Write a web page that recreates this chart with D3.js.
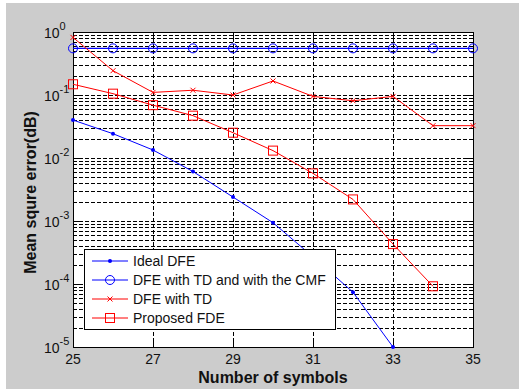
<!DOCTYPE html>
<html>
<head>
<meta charset="utf-8">
<script src="https://cdn.jsdelivr.net/npm/d3@7"></script>
<style>
body { margin: 0; background: #fff; }
text { font-family: Arial, "Liberation Sans", sans-serif; fill: #111; }
</style>
</head>
<body>
<div id="chart"></div>
<script>
// symbols on the x axis
var symbols = [25, 26, 27, 28, 29, 30, 31, 32, 33, 34, 35];

// mean square error per series
var idealDfe   = [0.040, 0.0243, 0.0134, 0.0061, 0.0024, 0.00094, 0.00027, 0.000074, 0.00001];
var dfeTdCmf   = [0.55, 0.55, 0.55, 0.55, 0.55, 0.55, 0.55, 0.55, 0.55, 0.55, 0.55];
var dfeTd      = [0.82, 0.243, 0.110, 0.119, 0.100, 0.167, 0.095, 0.081, 0.095, 0.0326, 0.0326];
var proposedFde = [0.148, 0.105, 0.069, 0.047, 0.0252, 0.0131, 0.0057, 0.0022, 0.00043, 0.000092];

var xTicks = [25, 27, 29, 31, 33, 35];
var yExponents = [0, -1, -2, -3, -4, -5];

var legendNames = ["Ideal DFE", "DFE with TD and with the CMF", "DFE with TD", "Proposed FDE"];

var W = 519, H = 389;
var padL = 73, padT = 32, pw = 400, ph = 315;

var svg = d3.select("#chart").append("svg")
    .attr("width", W)
    .attr("height", H);

// figure background
svg.append("rect").attr("x", 6).attr("y", 3).attr("width", W - 6).attr("height", H - 3)
    .attr("fill", "#cccccc");

var x = d3.scaleLinear().domain([25, 35]).range([padL, padL + pw]);
var y = d3.scaleLog().domain([1e-5, 1]).range([padT + ph, padT]);

svg.append("rect").attr("x", padL).attr("y", padT).attr("width", pw).attr("height", ph)
    .attr("fill", "#fff");

var g = svg.append("g");

// grid lines, log minor too
var yGrid = [];
for (var e = -5; e < 0; e++) {
    for (var m = 1; m < 10; m++) yGrid.push(m * Math.pow(10, e));
}
g.selectAll(".hgrid").data(yGrid.filter(function(d, i) { return i > 0; }))
    .enter().append("line")
    .attr("x1", padL).attr("x2", padL + pw)
    .attr("y1", function(d) { return Math.round(y(d)) + 0.5; })
    .attr("y2", function(d) { return Math.round(y(d)) + 0.5; })
    .attr("stroke", "#000").attr("stroke-width", 1)
    .attr("stroke-dasharray", "4,2");

g.selectAll(".vgrid").data(xTicks.slice(1, -1))
    .enter().append("line")
    .attr("x1", function(d) { return Math.round(x(d)) + 0.5; })
    .attr("x2", function(d) { return Math.round(x(d)) + 0.5; })
    .attr("y1", padT).attr("y2", padT + ph)
    .attr("stroke", "#000").attr("stroke-width", 1)
    .attr("stroke-dasharray", "4,2");

// tick marks inside the box, both sides
yGrid.concat([1]).forEach(function(d) {
    var major = Math.abs(Math.log10(d) - Math.round(Math.log10(d))) < 1e-9;
    var len = major ? 6 : 3;
    var yy = Math.round(y(d)) + 0.5;
    g.append("line").attr("x1", padL).attr("x2", padL + len).attr("y1", yy).attr("y2", yy).attr("stroke", "#000");
    g.append("line").attr("x1", padL + pw - len).attr("x2", padL + pw).attr("y1", yy).attr("y2", yy).attr("stroke", "#000");
});
xTicks.forEach(function(d) {
    var xx = Math.round(x(d)) + 0.5;
    g.append("line").attr("x1", xx).attr("x2", xx).attr("y1", padT + ph).attr("y2", padT + ph - 6).attr("stroke", "#000");
    g.append("line").attr("x1", xx).attr("x2", xx).attr("y1", padT).attr("y2", padT + 6).attr("stroke", "#000");
});

svg.append("rect").attr("x", padL + 0.5).attr("y", padT + 0.5).attr("width", pw).attr("height", ph)
    .attr("fill", "none").attr("stroke", "#000");

// tick labels
svg.selectAll(".xlab").data(xTicks).enter().append("text")
    .attr("x", function(d) { return x(d); })
    .attr("y", 364)
    .attr("text-anchor", "middle")
    .style("font-size", "14px")
    .text(function(d) { return d; });

var yl = svg.selectAll(".ylab").data(yExponents).enter().append("text")
    .attr("x", 44)
    .attr("y", function(d) { return y(Math.pow(10, d)) + 5.5; })
    .style("font-size", "14px");
yl.append("tspan").text("10");
yl.append("tspan").attr("dy", -8).style("font-size", "11px")
    .text(function(d) { return d === 0 ? "0" : "-" + (-d); });

// axis titles
svg.append("text")
    .attr("x", padL + pw / 2).attr("y", 383)
    .attr("text-anchor", "middle")
    .style("font-size", "16px").style("font-weight", "bold")
    .text("Number of symbols");

svg.append("text")
    .attr("transform", "translate(36," + (padT + ph / 2 + 3) + ") rotate(-90)")
    .attr("text-anchor", "middle")
    .style("font-size", "16px").style("font-weight", "bold")
    .text("Mean squre error(dB)");

// series
var series = [
    { name: legendNames[0], vals: idealDfe, color: "#0000ff", marker: "dot" },
    { name: legendNames[1], vals: dfeTdCmf, color: "#0000ff", marker: "circle" },
    { name: legendNames[2], vals: dfeTd, color: "#ff0000", marker: "x" },
    { name: legendNames[3], vals: proposedFde, color: "#ff0000", marker: "square" }
];

var line = d3.line()
    .x(function(d, i) { return x(symbols[i]); })
    .y(function(d) { return y(d); });

function drawMarker(sel, type, color) {
    if (type === "dot") {
        sel.append("circle").attr("r", 2).attr("fill", color);
    } else if (type === "circle") {
        sel.append("circle").attr("r", 4.5).attr("fill", "none").attr("stroke", color).attr("stroke-width", 1);
    } else if (type === "square") {
        sel.append("rect").attr("x", -4.5).attr("y", -4.5).attr("width", 9).attr("height", 9)
            .attr("fill", "none").attr("stroke", color).attr("stroke-width", 1);
    } else if (type === "x") {
        sel.append("path").attr("d", "M-2.5,-2.5L2.5,2.5M-2.5,2.5L2.5,-2.5")
            .attr("stroke", color).attr("stroke-width", 1);
    }
}

series.forEach(function(s) {
    svg.append("path").datum(s.vals)
        .attr("d", line)
        .attr("fill", "none")
        .attr("stroke", s.color)
        .attr("stroke-width", s.marker === "circle" ? 1.3 : 1);
    svg.selectAll(null).data(s.vals).enter().append("g")
        .attr("transform", function(d, i) { return "translate(" + x(symbols[i]) + "," + y(d) + ")"; })
        .each(function() { drawMarker(d3.select(this), s.marker, s.color); });
});

// legend
var lg = svg.append("g");
lg.append("rect").attr("x", 84.5).attr("y", 249.5).attr("width", 251).attr("height", 80)
    .attr("fill", "#fff").attr("stroke", "#000");
var rowY = d3.scaleLinear().domain([0, 3]).range([261, 318]);
series.forEach(function(s, i) {
    var yy = rowY(i);
    lg.append("line").attr("x1", 92).attr("x2", 128).attr("y1", yy).attr("y2", yy)
        .attr("stroke", s.color).attr("stroke-width", 1);
    var mk = lg.append("g").attr("transform", "translate(110," + yy + ")");
    drawMarker(mk, s.marker, s.color);
    lg.append("text").attr("x", 133).attr("y", yy + 5).style("font-size", "14px").text(s.name);
});
</script>
</body>
</html>
